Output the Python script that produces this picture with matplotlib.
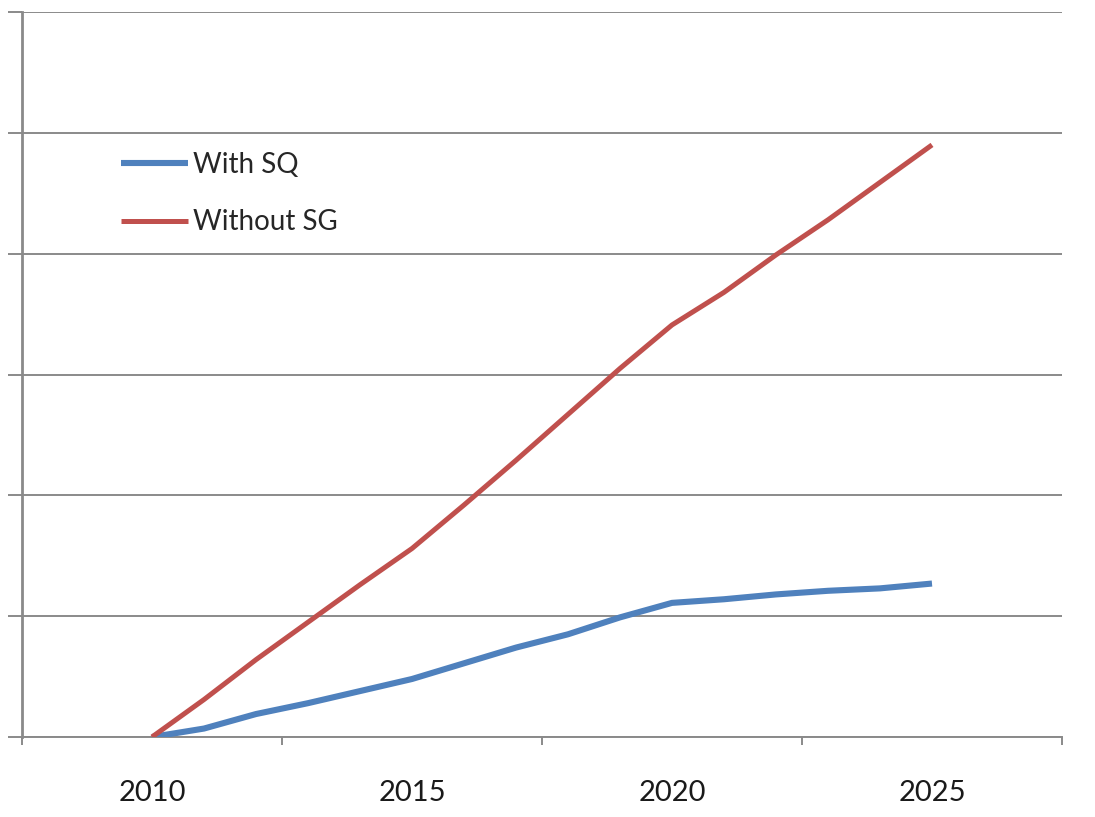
import matplotlib
matplotlib.use('Agg')
import matplotlib.pyplot as plt
from matplotlib.ticker import FixedLocator, NullFormatter

plt.rcParams['font.family'] = ['Lato', 'DejaVu Sans']

years = [2010, 2011, 2012, 2013, 2014, 2015, 2016, 2017, 2018, 2019,
         2020, 2021, 2022, 2023, 2024, 2025]
with_sq = [0, 0.07, 0.19, 0.28, 0.38, 0.48, 0.61, 0.74, 0.85, 0.99,
           1.11, 1.14, 1.18, 1.21, 1.23, 1.27]
without_sg = [0, 0.31, 0.64, 0.95, 1.26, 1.56, 1.92, 2.29, 2.67, 3.05,
              3.41, 3.68, 3.99, 4.28, 4.59, 4.90]
year_labels = [2010, 2015, 2020, 2025]
series_names = ['With SQ', 'Without SG']

grid_col = '#8a8a8a'

fig = plt.figure(figsize=(10.95, 8.17), dpi=100)
ax = fig.add_axes([22 / 1095, 1 - 737 / 817, 1040 / 1095, 725 / 817])

ax.plot(years, with_sq, color='#4F81BD', lw=4.4, solid_capstyle='butt', label=series_names[0], zorder=3)
ax.plot(years, without_sg, color='#C0504D', lw=3.6, solid_capstyle='butt', label=series_names[1], zorder=4)

ax.set_xlim(2007.5, 2027.5)
ax.set_ylim(0, 6)

# horizontal gridlines incl. top and bottom
ax.set_yticks(range(0, 7))
ax.yaxis.set_major_formatter(NullFormatter())
ax.grid(axis='y', color=grid_col, lw=1.4)
ax.tick_params(axis='y', direction='out', length=10, width=1.4, color=grid_col)

# category style x axis: ticks between labels, labels without marks
ax.xaxis.set_major_locator(FixedLocator([2007.5, 2012.5, 2017.5, 2022.5, 2027.5]))
ax.xaxis.set_major_formatter(NullFormatter())
ax.set_xticks(year_labels, minor=True)
ax.set_xticklabels([str(y) for y in year_labels], minor=True)
ax.tick_params(axis='x', which='major', direction='out', length=6, width=1.4, color=grid_col)
ax.tick_params(axis='x', which='minor', length=0, pad=31, labelsize=21, labelcolor='#1a1a1a')

for side in ['top', 'right']:
    ax.spines[side].set_visible(False)
ax.spines['left'].set_color(grid_col)
ax.spines['left'].set_linewidth(2)
ax.spines['bottom'].set_color(grid_col)
ax.spines['bottom'].set_linewidth(1.4)

ax.legend(loc='upper left', bbox_to_anchor=(96 / 1095, 1 - 127 / 817), bbox_transform=fig.transFigure,
          frameon=False, fontsize=20, handlelength=2.4, handletextpad=0.2, labelspacing=1.13,
          labelcolor='#262626')

fig.savefig('out.png', dpi=100, facecolor='white')
